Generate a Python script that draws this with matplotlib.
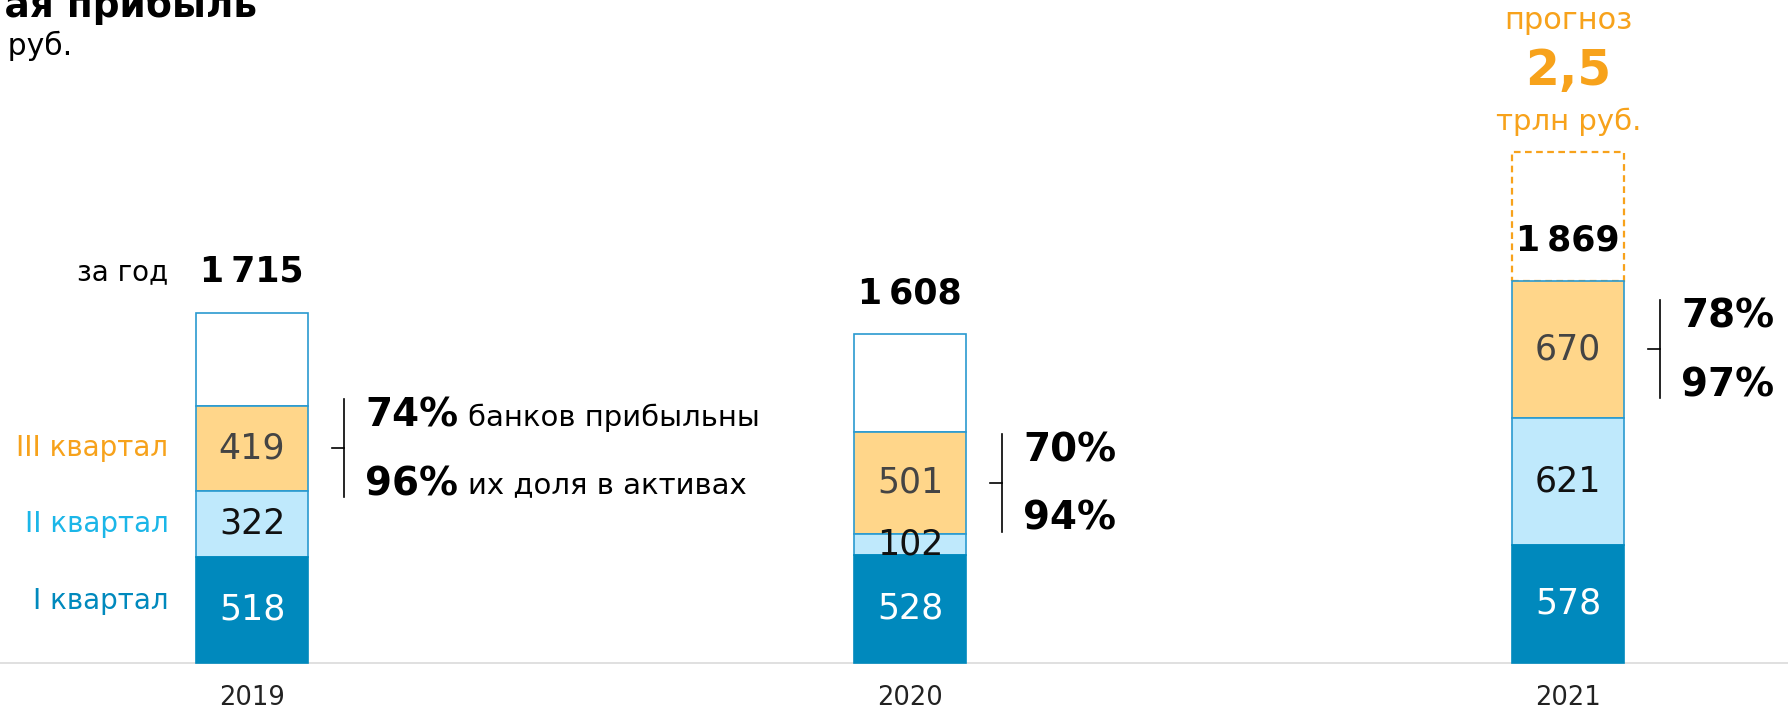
import matplotlib
matplotlib.use("Agg")
import matplotlib.pyplot as plt

plt.rcParams['font.family'] = ['DejaVu Sans']

# ---- data ----
years = ["2019", "2020", "2021"]
q1 = [518, 528, 578]
q2 = [322, 102, 621]
q3 = [419, 501, 670]
totals = [1715, 1608, 1869]
total_labels = ["1\u2009715", "1\u2009608", "1\u2009869"]
forecast_total = 2500
share_banks = ["74%", "70%", "78%"]
share_assets = ["96%", "94%", "97%"]
quarter_names = ["I квартал", "II квартал", "III квартал"]

# ---- colors ----
c_q1 = "#0089BD"
c_q2 = "#BFE9FC"
c_q3 = "#FFD68A"
c_edge = "#2A9AD0"
c_orange = "#F7A21B"
c_q2_txt = "#1BB6E8"

fig = plt.figure(figsize=(17.88, 7.13), dpi=100)
ax = fig.add_axes([0, 0, 1, 1])
ax.set_xlim(-0.383, 2.334)
ax.set_ylim(-247, 3246)
ax.axis("off")

x = list(range(len(years)))
w = 0.17
q4 = [t - a - b - c for t, a, b, c in zip(totals, q1, q2, q3)]
b2 = q1
b3 = [a + b for a, b in zip(q1, q2)]
b4 = [a + b + c for a, b, c in zip(q1, q2, q3)]

# forecast dashed box for 2021
ax.bar(x[2], forecast_total - totals[2], w, bottom=totals[2], facecolor="white",
       edgecolor=c_orange, linestyle=(0, (3, 2)), linewidth=1.6, zorder=1)

ax.bar(x[:2], q4[:2], w, bottom=b4[:2], facecolor="white", edgecolor=c_edge, linewidth=1.2, zorder=2)
ax.bar(x, q3, w, bottom=b3, facecolor=c_q3, edgecolor=c_edge, linewidth=1.2, zorder=2)
ax.bar(x, q2, w, bottom=b2, facecolor=c_q2, edgecolor=c_edge, linewidth=1.2, zorder=2)
ax.bar(x, q1, w, facecolor=c_q1, edgecolor=c_q1, linewidth=1.2, zorder=3)

# baseline
ax.axhline(0, color="#DDDDDD", linewidth=1.3, zorder=0)

num_fs = 25
for i in x:
    ax.text(i, q1[i] / 2, str(q1[i]), ha="center", va="center", color="white", fontsize=num_fs, zorder=5)
    ax.text(i, b2[i] + q2[i] / 2, str(q2[i]), ha="center", va="center", color="#111111", fontsize=num_fs, zorder=5)
    ax.text(i, b3[i] + q3[i] / 2, str(q3[i]), ha="center", va="center", color="#444444", fontsize=num_fs, zorder=5)
    ax.text(i, totals[i] + 200, total_labels[i], ha="center", va="center", color="black",
            fontsize=25, fontweight="bold", zorder=5)
    ax.text(i, -175, years[i], ha="center", va="center", color="#222222", fontsize=18.5)
    # bracket
    mid = b3[i] + q3[i] / 2
    ax.plot([i + 0.140, i + 0.140], [mid - 240, mid + 240], color="black", linewidth=1.2)
    ax.plot([i + 0.122, i + 0.140], [mid, mid], color="black", linewidth=1.2)
    ax.text(i + 0.172, mid + 160, share_banks[i], ha="left", va="center", fontsize=28,
            fontweight="bold", color="black")
    ax.text(i + 0.172, mid - 175, share_assets[i], ha="left", va="center", fontsize=28,
            fontweight="bold", color="black")

# explanatory texts for 2019
mid0 = b3[0] + q3[0] / 2
ax.text(0.3275, mid0 + 150, "банков прибыльны", ha="left", va="center", fontsize=21, color="black")
ax.text(0.3275, mid0 - 180, "их доля в активах", ha="left", va="center", fontsize=21, color="black")

# quarter labels at left of 2019 bar
lab_x = -0.127
ax.text(lab_x, 300, quarter_names[0], ha="right", va="center", fontsize=20, color=c_q1)
ax.text(lab_x, b2[0] + q2[0] / 2, quarter_names[1], ha="right", va="center", fontsize=20, color=c_q2_txt)
ax.text(lab_x, b3[0] + q3[0] / 2, quarter_names[2], ha="right", va="center", fontsize=20, color=c_orange)
ax.text(lab_x, totals[0] + 200, "за год", ha="right", va="center", fontsize=20, color="black")

# forecast texts
ax.text(2, 3146, "прогноз", ha="center", va="center", fontsize=22, color=c_orange)
ax.text(2, 2900, "2,5", ha="center", va="center", fontsize=35, fontweight="bold", color=c_orange)
ax.text(2, 2648, "трлн руб.", ha="center", va="center", fontsize=21, color=c_orange)

# cropped title (the reference shows it cut at the top-left edge)
fig.text(257 / 1788, 1 - 17 / 713, "Чистая прибыль", ha="right", va="baseline",
         fontsize=27, fontweight="bold", color="black")
fig.text(72 / 1788, 1 - 55 / 713, "млрд руб.", ha="right", va="baseline",
         fontsize=21.5, color="black")

fig.savefig("out.png", dpi=100)
